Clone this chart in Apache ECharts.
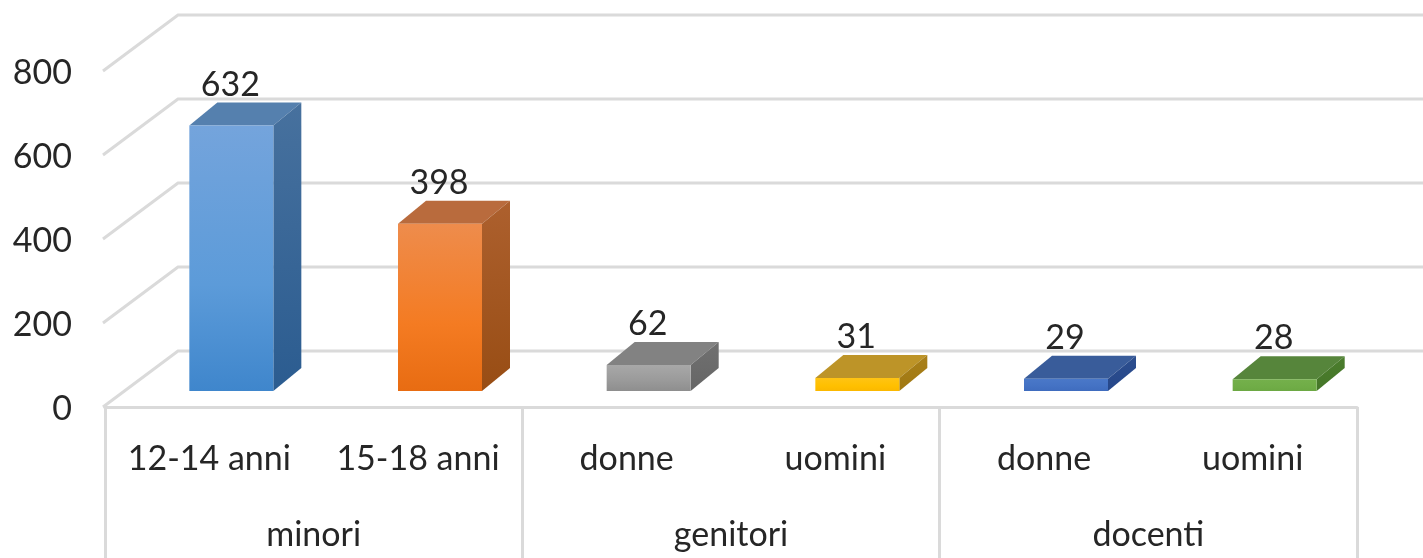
<!DOCTYPE html>
<html>
<head>
<meta charset="utf-8">
<title>minori genitori docenti</title>
<style>
  html, body { margin: 0; padding: 0; background: #fff; }
  #chart { width: 1423px; height: 558px; }
</style>
<script src="https://cdn.jsdelivr.net/npm/echarts@6/dist/echarts.min.js"></script>
</head>
<body>
<div id="chart"></div>
<script>
const categories = ['12-14 anni', '15-18 anni', 'donne', 'uomini', 'donne', 'uomini']
const groups = ['minori', 'genitori', 'docenti']
const values = [632, 398, 62, 31, 29, 28]
const yTicks = [0, 200, 400, 600, 800]

// front (top, mid, bottom), side (top, bottom), top face
const barColors = [
  ['#74a4dc', '#5c9bd9', '#3f86cc', '#47719e', '#2b5c90', '#5580ae'],
  ['#ee8c4c', '#f47b22', '#e86c12', '#ad602e', '#984d14', '#b96b3d'],
  ['#a8a8a8', '#9a9a9a', '#8e8e8e', '#707070', '#666666', '#828282'],
  ['#ffc414', '#ffc000', '#fbb800', '#a9801a', '#a07812', '#bd9428'],
  ['#4a78c8', '#4472c4', '#3f6cbe', '#2c4e8e', '#26478a', '#395c9a'],
  ['#74b04b', '#70ad47', '#6ca843', '#4b7d2d', '#457628', '#56853b']
]
const gridColor = '#dadada'
const textColor = '#262626'
const fontFamily = 'Lato'
const fontSize = 34

const wallDx = 73, wallDy = 56 // floor depth in the 3d view
const barDx = 22, barDy = 16   // front face of the bars, pushed into the floor
const depthX = 28, depthY = 23 // bar depth
const barWidth = 84

function renderWall(params, api) {
  const p = api.coord([0, api.value(0)])
  const x0 = params.coordSys.x
  return {
    type: 'polyline',
    shape: { points: [[x0 - 2, p[1]], [x0 + wallDx, p[1] - wallDy], [api.getWidth(), p[1] - wallDy]] },
    style: { stroke: gridColor, lineWidth: 3, fill: null }
  }
}

function renderBar(params, api) {
  const i = api.value(0)
  const top = api.coord([i, api.value(1)])
  const base = api.coord([i, 0])
  const c = barColors[i]
  const x1 = top[0] - barWidth / 2 + barDx
  const x2 = x1 + barWidth
  const yT = top[1] - barDy
  const yB = base[1] - barDy
  return {
    type: 'group',
    children: [
      {
        type: 'polygon',
        shape: { points: [[x1, yT], [x2, yT], [x2 + depthX, yT - depthY], [x1 + depthX, yT - depthY]] },
        style: { fill: c[5] }
      },
      {
        type: 'polygon',
        shape: { points: [[x2, yT], [x2 + depthX, yT - depthY], [x2 + depthX, yB - depthY], [x2, yB]] },
        style: {
          fill: new echarts.graphic.LinearGradient(0, 0, 0, 1, [
            { offset: 0, color: c[3] },
            { offset: 1, color: c[4] }
          ])
        }
      },
      {
        type: 'rect',
        shape: { x: x1, y: yT, width: barWidth, height: yB - yT },
        style: {
          fill: new echarts.graphic.LinearGradient(0, 0, 0, 1, [
            { offset: 0, color: c[0] },
            { offset: 0.6, color: c[1] },
            { offset: 1, color: c[2] }
          ])
        }
      },
      {
        type: 'text',
        style: {
          x: (x1 + x2) / 2 - 1,
          y: yT - depthY - 1,
          text: String(api.value(1)),
          align: 'center',
          verticalAlign: 'bottom',
          fill: textColor,
          fontFamily: fontFamily,
          fontSize: fontSize
        }
      }
    ]
  }
}

const myChart = echarts.init(document.getElementById('chart'), null, { renderer: 'canvas' })
myChart.setOption({
  animation: false,
  backgroundColor: '#ffffff',
  grid: { left: 105, right: 66, top: 71, bottom: 151 },
  xAxis: [
    {
      type: 'category',
      data: categories,
      position: 'bottom',
      axisLine: { show: false },
      axisTick: { show: false },
      axisLabel: { interval: 0, margin: 35, color: textColor, fontFamily: fontFamily, fontSize: fontSize }
    },
    {
      type: 'category',
      data: groups,
      position: 'bottom',
      axisLine: { show: true, lineStyle: { color: gridColor, width: 3 } },
      axisTick: { show: true, alignWithLabel: false, length: 160, lineStyle: { color: gridColor, width: 3 } },
      axisLabel: { interval: 0, margin: 111, color: textColor, fontFamily: fontFamily, fontSize: fontSize }
    }
  ],
  yAxis: {
    type: 'value',
    min: 0,
    max: 800,
    interval: 200,
    axisLine: { show: false },
    axisTick: { show: false },
    splitLine: { show: false },
    axisLabel: { margin: 33, verticalAlign: 'top', padding: [-15, 0, 0, 0], color: textColor, fontFamily: fontFamily, fontSize: fontSize }
  },
  series: [
    {
      type: 'custom',
      name: 'griglia',
      xAxisIndex: 0,
      renderItem: renderWall,
      silent: true,
      clip: false,
      z: 1,
      data: yTicks.map((t) => [t]),
      encode: { y: 0 }
    },
    {
      type: 'custom',
      name: 'valori',
      xAxisIndex: 0,
      renderItem: renderBar,
      clip: false,
      z: 2,
      data: values.map((v, i) => [i, v]),
      encode: { x: 0, y: 1 }
    }
  ]
})
</script>
</body>
</html>
